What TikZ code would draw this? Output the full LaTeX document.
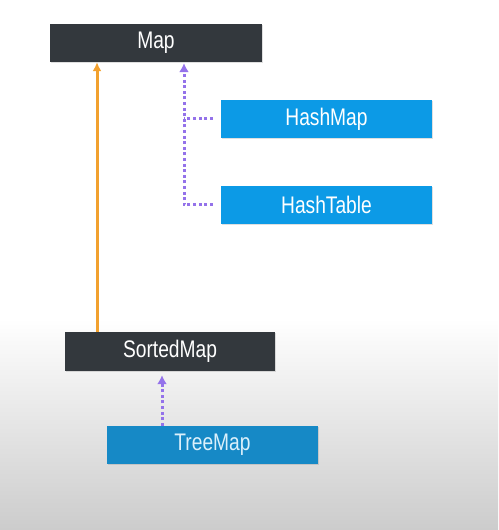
\documentclass[tikz,border=0pt]{standalone}
\usepackage{fontspec}
\newfontfamily\boxfont{Liberation Sans}[FakeStretch=0.8]
\usepackage{xcolor}
\usepackage{tikz}
\usetikzlibrary{arrows.meta,positioning,calc,shadows}

\definecolor{ifacegray}{HTML}{33383D}
\definecolor{classblue}{HTML}{0C9AE6}
\definecolor{extorange}{HTML}{F2A12E}
\definecolor{implpurple}{HTML}{9472EA}

\begin{document}
\begin{tikzpicture}[
    x=1pt, y=1pt,
    iface/.style={rectangle, fill=ifacegray, text=white, minimum width=212pt, minimum height=38pt, inner sep=0pt, font=\boxfont\fontsize{24}{28}\selectfont, drop shadow={opacity=0.25, shadow xshift=1pt, shadow yshift=-1pt}},
    cls/.style={rectangle, fill=classblue, text=white, minimum width=211pt, minimum height=38pt, inner sep=0pt, font=\boxfont\fontsize{24}{28}\selectfont, drop shadow={opacity=0.25, shadow xshift=1pt, shadow yshift=-1pt}},
    inh/.style={-{Latex[length=9pt,width=9pt]}, extorange, line width=3pt},
    impl/.style={-{Latex[length=9pt,width=10pt]}, implpurple, line width=3pt, dash pattern=on 3pt off 2.6pt},
    impldots/.style={implpurple, line width=3pt, dash pattern=on 3pt off 2.6pt},
]
% Background
\fill[white] (0,0) rectangle (498,530);
\shade[top color=white, bottom color=black!20] (0,0) rectangle (498,212);
\useasboundingbox (0,0) rectangle (498,530);

% Interfaces
\node[iface] (map) at (156, 487) {Map};
\node[iface, minimum width=210pt, minimum height=39pt] (sorted) at (170, 178.5) {SortedMap};

% Classes
\node[cls] (hashmap) at (326.5, 411) {HashMap};
\node[cls] (hashtable) at (326.5, 325) {HashTable};
\node[cls, fill=classblue!85!black!95, text=white!85!classblue] (tree) at (212.5, 85) {TreeMap};

% Guide lines for the connectors
\coordinate (trunk) at (97, 0);
\coordinate (spine) at (184, 0);
\coordinate (stem) at (162, 0);

% SortedMap extends Map
\draw[inh] (sorted.north -| trunk) -- (map.south -| trunk);

% HashMap, HashTable implement Map
\draw[impl, shorten >=1pt] ([xshift=-8pt]hashtable.west) -| (spine |- map.south);
\draw[impldots] ([xshift=-8pt]hashmap.west) -- (hashmap.west -| spine);

% TreeMap implements SortedMap
\draw[impl, shorten >=4pt] (tree.north -| stem) -- (sorted.south -| stem);
\end{tikzpicture}
\end{document}
